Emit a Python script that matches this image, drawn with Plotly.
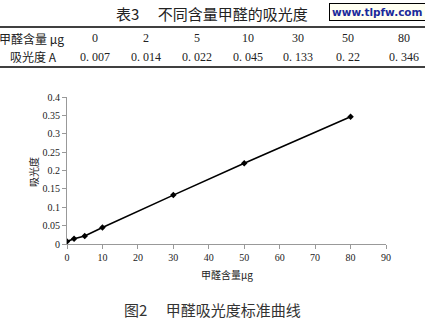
import plotly.graph_objects as go

# Data
content_ug = [0, 2, 5, 10, 30, 50, 80]
absorbance = [0.007, 0.014, 0.022, 0.045, 0.133, 0.22, 0.346]
col_labels = ["0", "2", "5", "10", "30", "50", "80"]
val_labels = ["0. 007", "0. 014", "0. 022", "0. 045", "0. 133", "0. 22", "0. 346"]
table_title = "表3　 不同含量甲醛的吸光度"
row_head = ["甲醛含量 μg", "吸光度 A"]
caption = "图2　 甲醛吸光度标准曲线"
x_title = "甲醛含量μg"
y_title = "吸光度"
watermark = "www.tlpfw.com"

W, H = 425, 322
L, R, T, B = 67, 386, 97, 244

def px(x):
    return (x - L) / (R - L)

def py(y):
    return (B - y) / (B - T)

CJK = "Noto Sans CJK SC"
SERIF = "Liberation Serif, Noto Sans CJK SC"

fig = go.Figure()
fig.add_trace(go.Scatter(
    x=content_ug, y=absorbance, mode="lines+markers",
    line=dict(color="black", width=1.6),
    marker=dict(symbol="diamond", size=5, color="black"),
    showlegend=False,
))

ann = []
shapes = []

def A(x, y, text, font, **kw):
    d = dict(xref="paper", yref="paper", x=px(x), y=py(y), text=text, showarrow=False,
             font=font, xanchor="center", yanchor="middle")
    d.update(kw)
    ann.append(d)

# Table title
A(212, 13, table_title, dict(family=CJK, size=15, color="#222"))
# watermark
A(377, 12, "<b>" + watermark + "</b>",
  dict(family="DejaVu Sans, Verdana, Arial", size=10.5, color="#1a2a9a"),
  bgcolor="#fffff2", bordercolor="black", borderwidth=1, borderpad=2)
# table lines
shapes.append(dict(type="line", xref="paper", yref="paper", x0=px(0), x1=px(425),
                   y0=py(27), y1=py(27), line=dict(color="black", width=1.6)))
shapes.append(dict(type="line", xref="paper", yref="paper", x0=px(0), x1=px(425),
                   y0=py(67), y1=py(67), line=dict(color="black", width=1.6)))
# row heads
A(31, 38, row_head[0], dict(family=CJK, size=12, color="#222"))
A(33, 57, row_head[1], dict(family=CJK, size=12, color="#222"))
col_x = [95, 146, 197, 248, 298, 348, 404]
for cx, c, v in zip(col_x, col_labels, val_labels):
    A(cx, 38, c, dict(family=SERIF, size=12, color="#222"))
    A(cx, 57, v, dict(family=SERIF, size=12, color="#222"))
# axis titles
A(227, 274, x_title, dict(family=CJK, size=10, color="#222"))
A(33, 172, y_title, dict(family=CJK, size=10, color="#222"), textangle=-90)
# caption
A(212, 309, caption, dict(family=CJK, size=15, color="#333"))

fig.update_layout(
    width=W, height=H,
    margin=dict(l=L, r=W - R, t=T, b=H - B),
    paper_bgcolor="white", plot_bgcolor="white",
    annotations=ann, shapes=shapes,
    xaxis=dict(range=[0, 90], dtick=10, tick0=0, showgrid=False, zeroline=False,
               showline=True, linecolor="#999", linewidth=1, ticks="outside",
               ticklen=4, tickcolor="#999",
               tickfont=dict(family="Liberation Serif", size=10, color="#222")),
    yaxis=dict(range=[0, 0.4], dtick=0.05, tick0=0, showgrid=False, zeroline=False,
               showline=True, linecolor="#999", linewidth=1, ticks="outside",
               ticklen=4, tickcolor="#999",
               tickfont=dict(family="Liberation Serif", size=10, color="#222")),
)

fig.write_html("out.html")
